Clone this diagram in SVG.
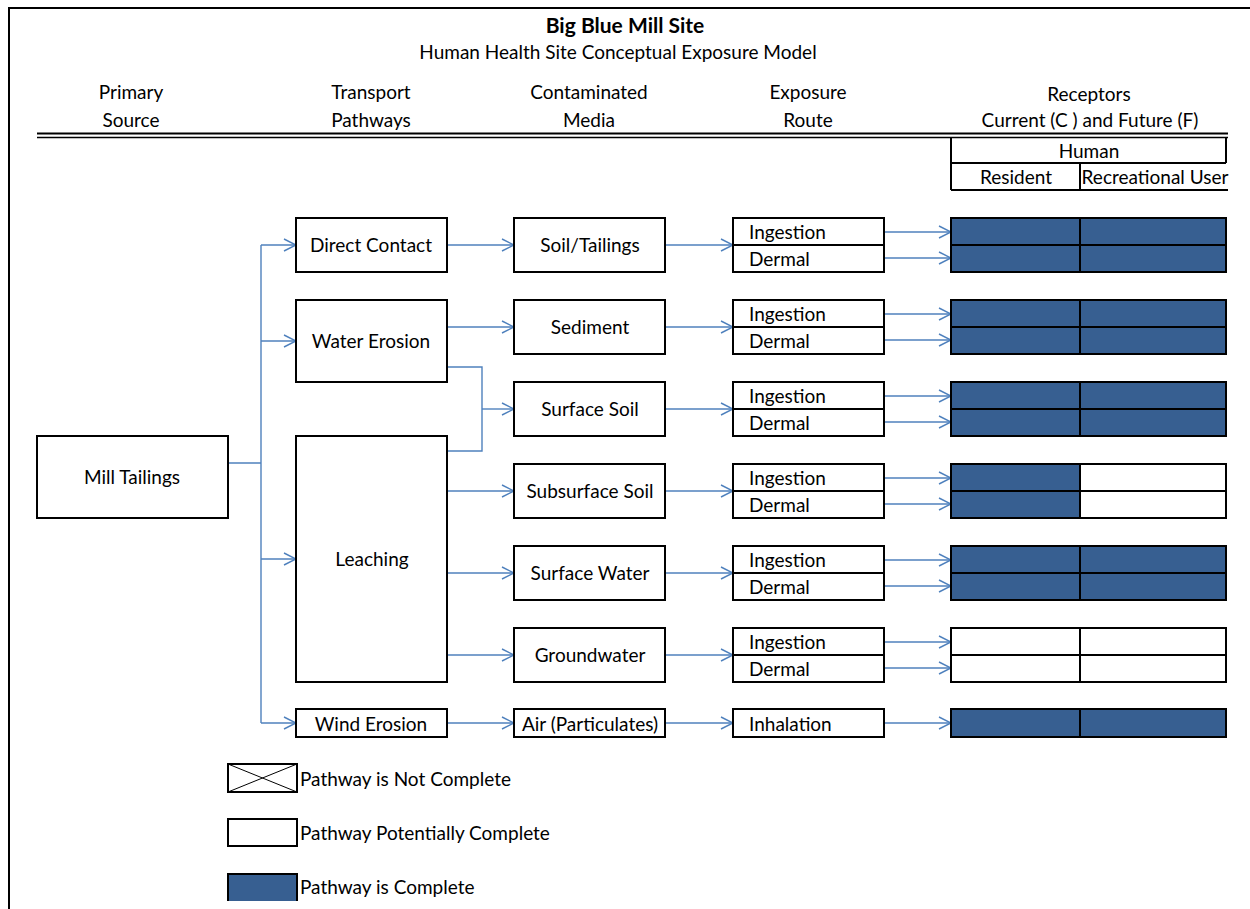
<svg xmlns="http://www.w3.org/2000/svg" width="1250" height="909" viewBox="0 0 1250 909">
<defs>
<style>
text{font-family:Lato,"Open Sans","Liberation Sans",sans-serif;font-size:19px;fill:#000}
.c{text-anchor:middle}
.l{text-anchor:start}
.b{font-weight:bold;font-size:21px}
.box{fill:#fff;stroke:#000;stroke-width:2}
.blue{fill:#375F91;stroke:#000;stroke-width:2}
.wh{fill:#fff;stroke:#000;stroke-width:2}
.ln{fill:none;stroke:#000;stroke-width:2}
.con{fill:none;stroke:#4F81BD;stroke-width:1.4}
.arr{marker-end:url(#ah)}
</style>
<marker id="ah" markerUnits="userSpaceOnUse" markerWidth="14" markerHeight="14" viewBox="0 0 14 14" refX="13" refY="7" orient="auto">
<path d="M1,1 L13,7 L1,13" fill="none" stroke="#4F81BD" stroke-width="1.4"/>
</marker>
</defs>
<rect width="1250" height="909" fill="#fff"/>
<g id="frame">
<path d="M9,909 V8 H1250" class="ln"/>
<path d="M37,133.5 H1228" fill="none" stroke="#000" stroke-width="2.2"/>
<path d="M37,137.5 H1228" fill="none" stroke="#000" stroke-width="1.4"/>
</g>
<g id="header">
<text x="625" y="33" class="c b">Big Blue Mill Site</text>
<text x="618" y="59" class="c">Human Health Site Conceptual Exposure Model</text>
<text x="131" y="99" class="c">Primary</text>
<text x="131" y="127" class="c">Source</text>
<text x="371" y="99" class="c">Transport</text>
<text x="371" y="127" class="c">Pathways</text>
<text x="589" y="99" class="c">Contaminated</text>
<text x="589" y="127" class="c">Media</text>
<text x="808" y="99" class="c">Exposure</text>
<text x="808" y="127" class="c">Route</text>
<text x="1089" y="101" class="c">Receptors</text>
<text x="1090" y="127" class="c">Current (C ) and Future (F)</text>
</g>
<g id="receptor-header">
<path d="M951,137 V190 M951,163 H1226 M1226,137 V163 M1080,163 V190 M951,190 H1228" class="ln"/>
<text x="1089" y="158" class="c">Human</text>
<text x="1016" y="184" class="c">Resident</text>
<text x="1155" y="184" class="c">Recreational User</text>
</g>
<g id="connectors">
<path d="M228,463 H261 M261,245 V723" class="con"/>
<path d="M261,245 H296" class="con arr"/>
<path d="M261,341 H296" class="con arr"/>
<path d="M261,559 H296" class="con arr"/>
<path d="M261,723 H296" class="con arr"/>
<path d="M447,245 H514" class="con arr"/>
<path d="M447,327 H514" class="con arr"/>
<path d="M447,367 H482 V451 H447" class="con"/>
<path d="M482,409 H514" class="con arr"/>
<path d="M447,491 H514" class="con arr"/>
<path d="M447,573 H514" class="con arr"/>
<path d="M447,655 H514" class="con arr"/>
<path d="M447,723 H514" class="con arr"/>
<path d="M665,245 H733" class="con arr"/>
<path d="M665,327 H733" class="con arr"/>
<path d="M665,409 H733" class="con arr"/>
<path d="M665,491 H733" class="con arr"/>
<path d="M665,573 H733" class="con arr"/>
<path d="M665,655 H733" class="con arr"/>
<path d="M665,723 H733" class="con arr"/>
<path d="M884,232 H951" class="con arr"/>
<path d="M884,258 H951" class="con arr"/>
<path d="M884,314 H951" class="con arr"/>
<path d="M884,340 H951" class="con arr"/>
<path d="M884,396 H951" class="con arr"/>
<path d="M884,422 H951" class="con arr"/>
<path d="M884,478 H951" class="con arr"/>
<path d="M884,504 H951" class="con arr"/>
<path d="M884,560 H951" class="con arr"/>
<path d="M884,586 H951" class="con arr"/>
<path d="M884,642 H951" class="con arr"/>
<path d="M884,668 H951" class="con arr"/>
<path d="M884,723 H951" class="con arr"/>
</g>
<g id="mill-tailings"><rect x="37" y="436" width="191" height="82" class="box"/><text x="132" y="484" class="c">Mill Tailings</text></g>
<g id="direct-contact"><rect x="296" y="218" width="151" height="54" class="box"/><text x="371" y="252" class="c">Direct Contact</text></g>
<g id="water-erosion"><rect x="296" y="300" width="151" height="82" class="box"/><text x="371" y="348" class="c">Water Erosion</text></g>
<g id="leaching"><rect x="296" y="436" width="151" height="246" class="box"/><text x="372" y="566" class="c">Leaching</text></g>
<g id="wind-erosion"><rect x="296" y="709" width="151" height="28" class="box"/><text x="371" y="731" class="c">Wind Erosion</text></g>
<g id="soil-tailings"><rect x="514" y="218" width="151" height="54" class="box"/><text x="590" y="252" class="c">Soil/Tailings</text></g>
<g id="sediment"><rect x="514" y="300" width="151" height="54" class="box"/><text x="590" y="334" class="c">Sediment</text></g>
<g id="surface-soil"><rect x="514" y="382" width="151" height="54" class="box"/><text x="590" y="416" class="c">Surface Soil</text></g>
<g id="subsurface-soil"><rect x="514" y="464" width="151" height="54" class="box"/><text x="590" y="498" class="c">Subsurface Soil</text></g>
<g id="surface-water"><rect x="514" y="546" width="151" height="54" class="box"/><text x="590" y="580" class="c">Surface Water</text></g>
<g id="groundwater"><rect x="514" y="628" width="151" height="54" class="box"/><text x="590" y="662" class="c">Groundwater</text></g>
<g id="air"><rect x="514" y="709" width="151" height="28" class="box"/><text x="590" y="731" class="c">Air (Particulates)</text></g>
<g id="route-1"><rect x="733" y="218" width="151" height="54" class="box"/><path d="M733,245 H884" class="ln"/><text x="749" y="239" class="l">Ingestion</text><text x="749" y="266" class="l">Dermal</text></g>
<g id="route-2"><rect x="733" y="300" width="151" height="54" class="box"/><path d="M733,327 H884" class="ln"/><text x="749" y="321" class="l">Ingestion</text><text x="749" y="348" class="l">Dermal</text></g>
<g id="route-3"><rect x="733" y="382" width="151" height="54" class="box"/><path d="M733,409 H884" class="ln"/><text x="749" y="403" class="l">Ingestion</text><text x="749" y="430" class="l">Dermal</text></g>
<g id="route-4"><rect x="733" y="464" width="151" height="54" class="box"/><path d="M733,491 H884" class="ln"/><text x="749" y="485" class="l">Ingestion</text><text x="749" y="512" class="l">Dermal</text></g>
<g id="route-5"><rect x="733" y="546" width="151" height="54" class="box"/><path d="M733,573 H884" class="ln"/><text x="749" y="567" class="l">Ingestion</text><text x="749" y="594" class="l">Dermal</text></g>
<g id="route-6"><rect x="733" y="628" width="151" height="54" class="box"/><path d="M733,655 H884" class="ln"/><text x="749" y="649" class="l">Ingestion</text><text x="749" y="676" class="l">Dermal</text></g>
<g id="route-7"><rect x="733" y="709" width="151" height="28" class="box"/><text x="749" y="731" class="l">Inhalation</text></g>
<g id="receptors-1"><rect x="951" y="218" width="129" height="27" class="blue"/><rect x="1080" y="218" width="146" height="27" class="blue"/><rect x="951" y="245" width="129" height="27" class="blue"/><rect x="1080" y="245" width="146" height="27" class="blue"/></g>
<g id="receptors-2"><rect x="951" y="300" width="129" height="27" class="blue"/><rect x="1080" y="300" width="146" height="27" class="blue"/><rect x="951" y="327" width="129" height="27" class="blue"/><rect x="1080" y="327" width="146" height="27" class="blue"/></g>
<g id="receptors-3"><rect x="951" y="382" width="129" height="27" class="blue"/><rect x="1080" y="382" width="146" height="27" class="blue"/><rect x="951" y="409" width="129" height="27" class="blue"/><rect x="1080" y="409" width="146" height="27" class="blue"/></g>
<g id="receptors-4"><rect x="951" y="464" width="129" height="27" class="blue"/><rect x="1080" y="464" width="146" height="27" class="wh"/><rect x="951" y="491" width="129" height="27" class="blue"/><rect x="1080" y="491" width="146" height="27" class="wh"/></g>
<g id="receptors-5"><rect x="951" y="546" width="129" height="27" class="blue"/><rect x="1080" y="546" width="146" height="27" class="blue"/><rect x="951" y="573" width="129" height="27" class="blue"/><rect x="1080" y="573" width="146" height="27" class="blue"/></g>
<g id="receptors-6"><rect x="951" y="628" width="129" height="27" class="wh"/><rect x="1080" y="628" width="146" height="27" class="wh"/><rect x="951" y="655" width="129" height="27" class="wh"/><rect x="1080" y="655" width="146" height="27" class="wh"/></g>
<g id="receptors-7"><rect x="951" y="709" width="129" height="28" class="blue"/><rect x="1080" y="709" width="146" height="28" class="blue"/></g>
<g id="legend">
<rect x="228" y="764" width="69" height="28" class="wh"/><path d="M228,764 L297,792 M297,764 L228,792" stroke="#000" stroke-width="1"/>
<text x="300" y="786" class="l">Pathway is Not Complete</text>
<rect x="228" y="819" width="69" height="27" class="wh"/>
<text x="300" y="840" class="l">Pathway Potentially Complete</text>
<path d="M228,901 V874 H297 V901" fill="#375F91" stroke="#000" stroke-width="2"/>
<text x="300" y="894" class="l">Pathway is Complete</text>
</g>
</svg>
